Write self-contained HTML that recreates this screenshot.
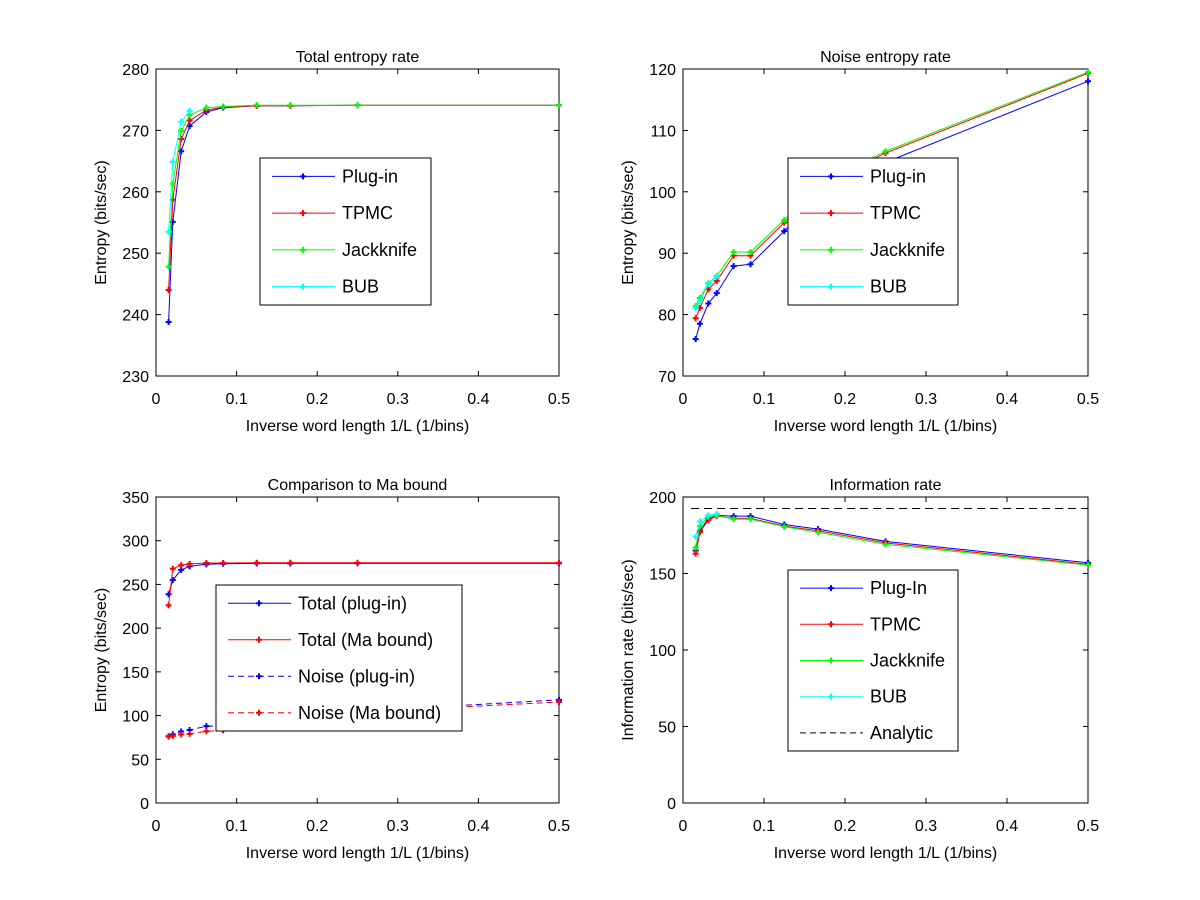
<!DOCTYPE html>
<html><head><meta charset="utf-8">
<style>
body{margin:0;background:#fff;}
svg{display:block;font-family:"Liberation Sans",Arial,sans-serif;}
</style></head>
<body>
<svg id="fig" width="1200" height="900" viewBox="0 0 1200 900" xmlns="http://www.w3.org/2000/svg"></svg>
<script>
// ---- data ----
const invL = [1/64, 1/48, 1/32, 1/24, 1/16, 1/12, 1/8, 1/6, 1/4, 1/2];
const invLBub = [1/64, 1/48, 1/32, 1/24];
const xTicks = [0, 0.1, 0.2, 0.3, 0.4, 0.5];

const totalPlugin = [238.8, 255.1, 266.6, 270.7, 273.0, 273.7, 274.0, 274.0, 274.1, 274.1];
const totalTpmc   = [244.0, 258.7, 268.6, 271.6, 273.3, 273.8, 274.0, 274.0, 274.1, 274.1];
const totalJack   = [247.8, 261.3, 269.9, 272.5, 273.7, 273.9, 274.1, 274.1, 274.1, 274.1];
const totalBub    = [253.5, 264.9, 271.4, 273.2];
const totalTicks = [230, 240, 250, 260, 270, 280];

const noisePlugin = [76.0, 78.5, 81.8, 83.5, 87.9, 88.2, 93.6, 99.5, 104.8, 118.0];
const noiseTpmc   = [79.4, 81.1, 84.1, 85.5, 89.6, 89.6, 95.0, 101.0, 106.3, 119.3];
const noiseJack   = [81.4, 82.7, 85.1, 86.3, 90.2, 90.2, 95.4, 101.3, 106.6, 119.5];
const noiseBub    = [81.1, 82.2, 85.0, 86.2];
const noiseTicks = [70, 80, 90, 100, 110, 120];

const maTotal = [226, 268, 272, 273.5, 274.5, 274.5, 274.8, 274.8, 274.8, 274.8];
const maNoise = [76.5, 76.8, 78.5, 79, 82, 83, 90, 97, 104, 115.5];
const maTicks = [0, 50, 100, 150, 200, 250, 300, 350];

const infoPlugin = [165, 178, 186, 188, 187.5, 187.5, 182, 179, 171, 157];
const infoTpmc   = [163, 177, 185, 187.5, 186, 186, 181, 178, 170, 156];
const infoJack   = [167, 181, 187, 188, 185.5, 185.5, 180.5, 177, 169, 155.5];
const infoBub    = [174, 184, 188, 189];
const infoAnalytic = 192.5;
const infoTicks = [0, 50, 100, 150, 200];

// ---- drawing ----
const NS = "http://www.w3.org/2000/svg";
const svg = document.getElementById('fig');
function mk(tag, attrs, parent){
  const e = document.createElementNS(NS, tag);
  for (const k in attrs) e.setAttribute(k, attrs[k]);
  (parent || svg).appendChild(e);
  return e;
}
const BLUE="#0000ff", RED="#ff0000", GREEN="#00ff00", CYAN="#00ffff";

function panel(px, py, pw, ph, ymin, ymax, yTicks, title, ylab, name){
  const g = mk('g', {});
  
  
  const sx = v => px + v / 0.5 * pw;
  const sy = v => py + ph - (v - ymin) / (ymax - ymin) * ph;
  const frame = mk('rect', {x:px, y:py, width:pw, height:ph, fill:'#fff', stroke:'#000', 'stroke-width':1}, g);
  
  
  xTicks.forEach(t => {
    const x = sx(t);
    mk('line', {x1:x, y1:py+ph, x2:x, y2:py+ph-5, stroke:'#000'}, g);
    mk('line', {x1:x, y1:py, x2:x, y2:py+5, stroke:'#000'}, g);
    const tl = mk('text', {x:x, y:py+ph+28, 'font-size':16, 'text-anchor':'middle'}, g);
    tl.textContent = String(t);
    
    
  });
  yTicks.forEach(t => {
    const y = sy(t);
    mk('line', {x1:px, y1:y, x2:px+5, y2:y, stroke:'#000'}, g);
    mk('line', {x1:px+pw, y1:y, x2:px+pw-5, y2:y, stroke:'#000'}, g);
    const tl = mk('text', {x:px-7, y:y+6, 'font-size':16, 'text-anchor':'end'}, g);
    tl.textContent = String(t);
    
    
  });
  const tt = mk('text', {x:px+pw/2, y:py-7, 'font-size':16, 'text-anchor':'middle'}, g);
  tt.textContent = title;
  
  
  const xl = mk('text', {x:px+pw/2, y:py+ph+55, 'font-size':16, 'text-anchor':'middle'}, g);
  xl.textContent = 'Inverse word length 1/L (1/bins)';
  
  
  const yl = mk('text', {x:0, y:0, 'font-size':16, 'text-anchor':'middle', transform:`translate(${px-50},${py+ph/2}) rotate(-90)`}, g);
  yl.textContent = ylab;
  
  
  return {g, sx, sy};
}

function marker(g, x, y, color){
  return mk('path', {d:`M${x-3},${y}H${x+3}M${x},${y-3}V${y+3}`, stroke:color, 'stroke-width':2, fill:'none'}, g);
}

function series(P, xs, ys, color, dashed, name){
  const pts = xs.map((x,i) => P.sx(x).toFixed(1)+','+P.sy(ys[i]).toFixed(1)).join(' ');
  const pl = mk('polyline', {points:pts, fill:'none', stroke:color, 'stroke-width':1, 'stroke-dasharray': dashed ? '6,4' : 'none'}, P.g);
  
  
  xs.forEach((x,i) => {
    const m = marker(P.g, P.sx(x), P.sy(ys[i]), color);
    
    
  });
}

function legend(x, y, w, h, entries, name){
  const g = mk('g', {});
  
  
  mk('rect', {x:x, y:y, width:w, height:h, fill:'#fff', stroke:'#000'}, g);
  const step = h / entries.length;
  entries.forEach((e, i) => {
    const cy = y + step*(i+0.5);
    mk('line', {x1:x+12, y1:cy, x2:x+75, y2:cy, stroke:e.c, 'stroke-dasharray': e.d ? '6,4' : 'none'}, g);
    if (e.m) marker(g, x+43, cy, e.c);
    const t = mk('text', {x:x+82, y:cy+6, 'font-size':18}, g);
    t.textContent = e.t;
    
    
  });
}

// Panel 1
const P1 = panel(156, 69, 403, 307, 230, 280, totalTicks, 'Total entropy rate', 'Entropy (bits/sec)', 'total-entropy-chart');
series(P1, invL, totalPlugin, BLUE, false, 'plugin');
series(P1, invL, totalTpmc, RED, false, 'tpmc');
series(P1, invL, totalJack, GREEN, false, 'jackknife');
series(P1, invLBub, totalBub, CYAN, false, 'bub');
legend(260, 158, 171, 147, [{t:'Plug-in',c:BLUE,m:1},{t:'TPMC',c:RED,m:1},{t:'Jackknife',c:GREEN,m:1},{t:'BUB',c:CYAN,m:1}], 'legend-total');

// Panel 2
const P2 = panel(683, 69, 405, 307, 70, 120, noiseTicks, 'Noise entropy rate', 'Entropy (bits/sec)', 'noise-entropy-chart');
series(P2, invL, noisePlugin, BLUE, false, 'plugin');
series(P2, invL, noiseTpmc, RED, false, 'tpmc');
series(P2, invL, noiseJack, GREEN, false, 'jackknife');
series(P2, invLBub, noiseBub, CYAN, false, 'bub');
legend(788, 158, 170, 147, [{t:'Plug-in',c:BLUE,m:1},{t:'TPMC',c:RED,m:1},{t:'Jackknife',c:GREEN,m:1},{t:'BUB',c:CYAN,m:1}], 'legend-noise');

// Panel 3
const P3 = panel(156, 497, 403, 306, 0, 350, maTicks, 'Comparison to Ma bound', 'Entropy (bits/sec)', 'ma-bound-chart');
series(P3, invL, totalPlugin, BLUE, false, 'total-plugin');
series(P3, invL, maTotal, RED, false, 'total-ma');
series(P3, invL, noisePlugin, BLUE, true, 'noise-plugin');
series(P3, invL, maNoise, RED, true, 'noise-ma');
legend(216, 585, 246, 146, [{t:'Total (plug-in)',c:BLUE,m:1},{t:'Total (Ma bound)',c:RED,m:1},{t:'Noise (plug-in)',c:BLUE,m:1,d:1},{t:'Noise (Ma bound)',c:RED,m:1,d:1}], 'legend-ma');

// Panel 4
const P4 = panel(683, 497, 405, 306, 0, 200, infoTicks, 'Information rate', 'Information rate (bits/sec)', 'information-rate-chart');
series(P4, invL, infoPlugin, BLUE, false, 'plugin');
series(P4, invL, infoTpmc, RED, false, 'tpmc');
series(P4, invL, infoJack, GREEN, false, 'jackknife');
series(P4, invLBub, infoBub, CYAN, false, 'bub');
const an = mk('line', {x1:P4.sx(0.01), y1:P4.sy(infoAnalytic), x2:P4.sx(0.5), y2:P4.sy(infoAnalytic), stroke:'#000', 'stroke-dasharray':'8,5'}, P4.g);


legend(788, 570, 170, 181, [{t:'Plug-In',c:BLUE,m:1},{t:'TPMC',c:RED,m:1},{t:'Jackknife',c:GREEN,m:1},{t:'BUB',c:CYAN,m:1},{t:'Analytic',c:'#000',m:0,d:1}], 'legend-info');
</script>
</body></html>
